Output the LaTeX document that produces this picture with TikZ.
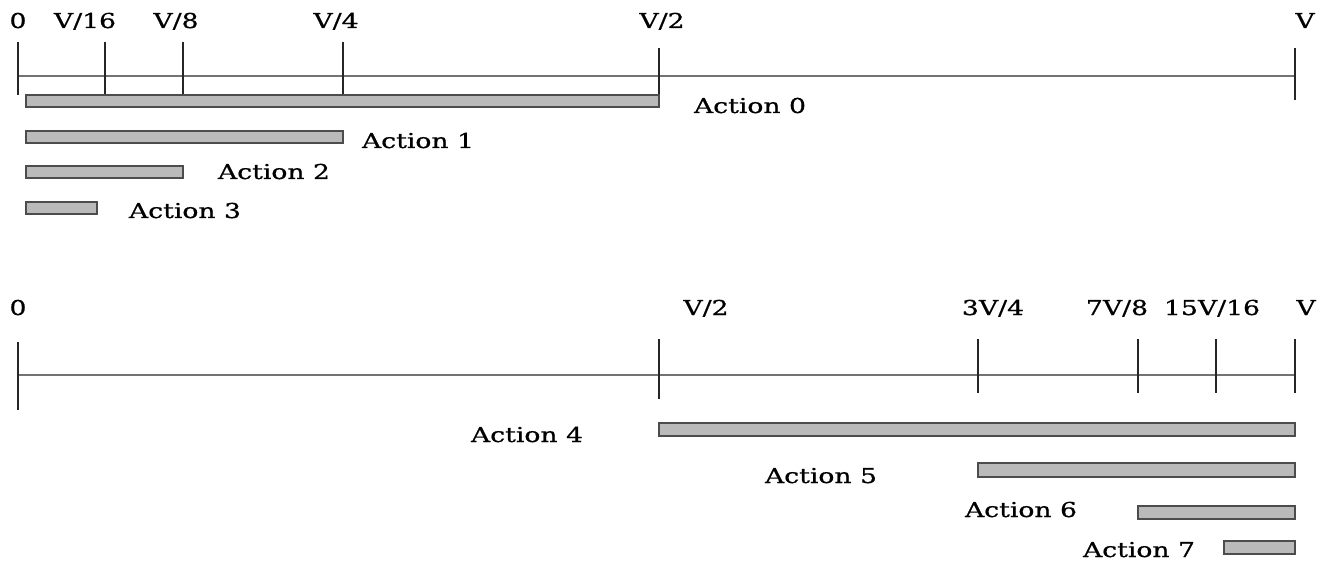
\documentclass[tikz,border=0pt]{standalone}
\usepackage{fontspec}
\setmainfont{DejaVu Serif}[FakeStretch=1.3,FakeBold=0.8]
\begin{document}
\begin{tikzpicture}[x=1pt,y=-1pt,
  axisline/.style={draw=black!55,line width=1.8pt},
  tick/.style={draw=black!85,line width=1.3pt},
  bar/.style={draw=black!70,fill=black!27,line width=1.3pt},
  lbl/.style={anchor=base,inner sep=0pt,font=\fontsize{20.5}{24}\selectfont,text=black}]
\useasboundingbox (0,0) rectangle (1327,561);
% top axis
\draw[axisline] (18,76) -- (1295,76);
\draw[tick] (18,42) -- (18,95);
\draw[tick] (105,42) -- (105,95);
\draw[tick] (183,42) -- (183,95);
\draw[tick] (343,42) -- (343,95);
\draw[tick] (659,48) -- (659,107);
\draw[tick] (1295,48) -- (1295,100);
\node[lbl] (t0) at (18,28) {0};
\node[lbl] (t16) at (85,28) {V/16};
\node[lbl] (t8) at (176,28) {V/8};
\node[lbl] (t4) at (336,28) {V/4};
\node[lbl] (t2) at (662,28) {V/2};
\node[lbl] (tV) at (1305,28) {V};
\draw[bar] (26,95) rectangle (659,107);
\draw[bar] (26,131) rectangle (343,143);
\draw[bar] (26,166) rectangle (183,178);
\draw[bar] (26,202) rectangle (97,214);
\node[lbl] (a0) at (750,113) {Action 0};
\node[lbl] (a1) at (418,148) {Action 1};
\node[lbl] (a2) at (274,179) {Action 2};
\node[lbl] (a3) at (185,218) {Action 3};
% bottom axis
\draw[axisline] (18,375) -- (1295,375);
\draw[tick] (18,342) -- (18,410);
\draw[tick] (659,339) -- (659,399);
\draw[tick] (978,339) -- (978,393);
\draw[tick] (1138,339) -- (1138,393);
\draw[tick] (1216,339) -- (1216,393);
\draw[tick] (1295,339) -- (1295,393);
\node[lbl] (b0) at (18,315) {0};
\node[lbl] (b2) at (706,315) {V/2};
\node[lbl] (b34) at (993,315) {3V/4};
\node[lbl] (b78) at (1117,315) {7V/8};
\node[lbl] (b1516) at (1212,315) {15V/16};
\node[lbl] (bV) at (1306,315) {V};
\draw[bar] (659,423) rectangle (1295,436);
\draw[bar] (978,463) rectangle (1295,477);
\draw[bar] (1138,506) rectangle (1295,519);
\draw[bar] (1224,541) rectangle (1295,554);
\node[lbl] (a4) at (527,442) {Action 4};
\node[lbl] (a5) at (821,483) {Action 5};
\node[lbl] (a6) at (1021,517) {Action 6};
\node[lbl] (a7) at (1139,557) {Action 7};
\end{tikzpicture}
\end{document}
